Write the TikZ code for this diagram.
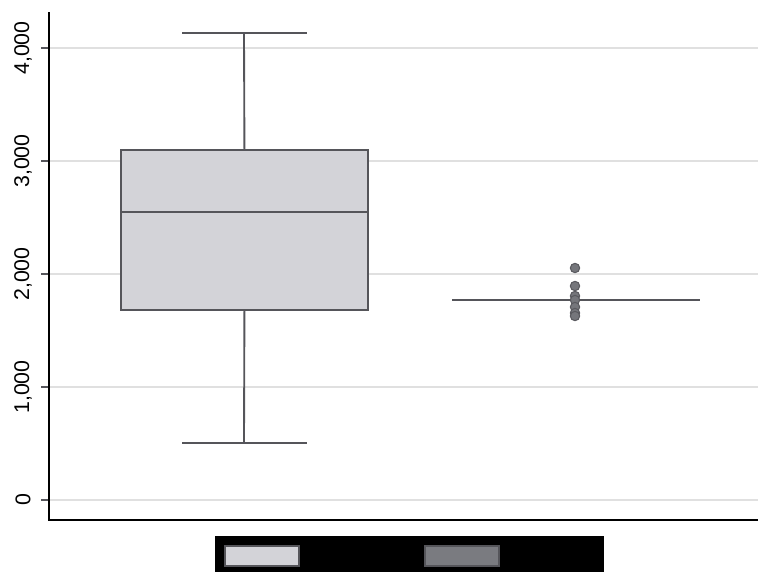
\documentclass[tikz,border=0pt]{standalone}
\usepackage{fontspec}
\setmainfont{Liberation Sans}
\begin{document}
\begin{tikzpicture}[x=0.75pt,y=-0.75pt,
  grid/.style={draw=gridc,line width=1.2pt},
  boxline/.style={draw=linec,line width=1.4pt},
  outl/.style={circle,fill=outc,draw=outd,line width=0.8pt,inner sep=0pt,minimum size=7pt},
  ylab/.style={rotate=90,font=\fontsize{16pt}{16pt}\selectfont,inner sep=0pt}]
\definecolor{gridc}{HTML}{E0E0E0}
\definecolor{linec}{HTML}{55555A}
\definecolor{boxc}{HTML}{D3D3D8}
\definecolor{outc}{HTML}{75767B}
\definecolor{outd}{HTML}{5A5A5F}
\definecolor{darkc}{HTML}{7A7B80}
\useasboundingbox (0,0) rectangle (758,572);
% gridlines
\foreach \y in {48,161,274,387,500} {
  \draw[grid] (49,\y) -- (758,\y);
  \draw[draw=linec,line width=1.2pt] (41,\y) -- (49,\y);
}
% labels
\node[ylab] (l0) at (23,500) {0};
\node[ylab] (l1) at (23,387) {1,000};
\node[ylab] (l2) at (23,274) {2,000};
\node[ylab] (l3) at (23,161) {3,000};
\node[ylab] (l4) at (23,48) {4,000};
% axes
\draw[line width=1.2pt] (49,12) -- (49,520) -- (758,520);
% box 1
\coordinate (wt) at (244,33);
\coordinate (wb) at (244,443);
\node[boxline,fill=boxc,minimum width=247*0.75pt,minimum height=160*0.75pt,inner sep=0pt,anchor=north west] (b1) at (120,149) {};
\draw[boxline] (b1.north) -- (wt);
\draw[boxline] (b1.south) -- (wb);
\draw[boxline] (182,33) -- (307,33);
\draw[boxline] (182,443) -- (307,443);
\draw[boxline] (120,212) -- (367,212);
% box 2
\coordinate (m2a) at (452,300);
\coordinate (m2b) at (700,300);
\draw[boxline] (m2a) -- (m2b);
\foreach \y [count=\i] in {268,286,296,300,307,313,316} {
  \node[outl] (o\i) at (575,\y) {};
}
% legend
\node[fill=black,minimum width=389*0.75pt,minimum height=36*0.75pt,inner sep=0pt,anchor=north west] (leg) at (215,536) {};
\node[fill=boxc,draw=linec,line width=1.2pt,minimum width=74*0.75pt,minimum height=20*0.75pt,inner sep=0pt,anchor=north west] (k1) at (224,545) {};
\node[fill=darkc,draw=linec,line width=1.2pt,minimum width=74*0.75pt,minimum height=20*0.75pt,inner sep=0pt,anchor=north west] (k2) at (424,545) {};
\end{tikzpicture}
\end{document}
